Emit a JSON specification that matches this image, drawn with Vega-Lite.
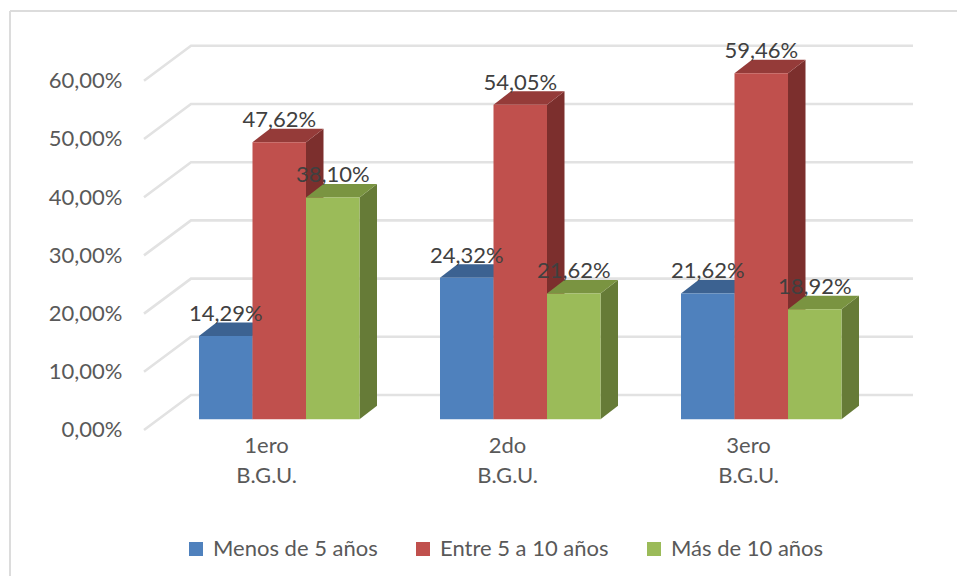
{
"$schema":"https://vega.github.io/schema/vega-lite/v6.json",
"width":947,"height":565,
"autosize":"none",
"padding":{"left":10,"top":11,"right":0,"bottom":0},
"background":"white",
"config":{"view":{"stroke":null},"font":"Lato","axis":{"grid":false,"ticks":false,"domain":false,"title":null}},
"datasets":{
"barras":[
{"grupo":"1ero B.G.U.","serie":"Menos de 5 años","valor":14.29},
{"grupo":"1ero B.G.U.","serie":"Entre 5 a 10 años","valor":47.62},
{"grupo":"1ero B.G.U.","serie":"Más de 10 años","valor":38.10},
{"grupo":"2do B.G.U.","serie":"Menos de 5 años","valor":24.32},
{"grupo":"2do B.G.U.","serie":"Entre 5 a 10 años","valor":54.05},
{"grupo":"2do B.G.U.","serie":"Más de 10 años","valor":21.62},
{"grupo":"3ero B.G.U.","serie":"Menos de 5 años","valor":21.62},
{"grupo":"3ero B.G.U.","serie":"Entre 5 a 10 años","valor":59.46},
{"grupo":"3ero B.G.U.","serie":"Más de 10 años","valor":18.92}
],
"rejilla":[{"nivel":0},{"nivel":10},{"nivel":20},{"nivel":30},{"nivel":40},{"nivel":50},{"nivel":60}]
},
"resolve":{"scale":{"color":"independent"}},
"layer":[
{
"data":{"name":"rejilla"},
"transform":[
{"calculate":"[-0.2282,-0.0332,2.9627]","as":"gx"},
{"calculate":"[datum.nivel,datum.nivel+6.01,datum.nivel+6.01]","as":"gy"},
{"flatten":["gx","gy"]}
],
"mark":{"type":"line","stroke":"#e2e2e2","strokeWidth":2.6},
"encoding":{
"x":{"field":"gx","type":"quantitative","title":null,"scale":{"domain":[-0.7842,3.1452],"nice":false,"zero":false},
"axis":{"orient":"bottom","offset":-131,"values":[0.278,1.278,2.278],"labelPadding":0,"labelFontSize":22,"labelColor":"#595959","labelLineHeight":30,"labelBaseline":"middle","labelExpr":"[['1ero','B.G.U.'],['2do','B.G.U.'],['3ero','B.G.U.']][round(datum.value-0.278)]"}},
"y":{"field":"gy","type":"quantitative","title":null,"scale":{"domain":[-25.086,71.993],"nice":false,"zero":false},
"axis":{"orient":"left","offset":-112,"values":[0,10,20,30,40,50,60],"labelPadding":0,"labelFontSize":22,"labelColor":"#595959","labelExpr":"replace(format(datum.value,'.2f'),'.',',')+'%'"}},
"detail":{"field":"nivel","type":"nominal"}
}
},
{
"data":{"values":[{"marco":"izquierda"}]},
"mark":{"type":"rule","stroke":"#dcdcdc","strokeWidth":2},
"encoding":{"x":{"datum":-0.7842,"title":null}}
},
{
"data":{"values":[{"marco":"arriba"}]},
"mark":{"type":"rule","stroke":"#dcdcdc","strokeWidth":2},
"encoding":{"y":{"datum":71.993,"title":null}}
},
{
"data":{"name":"barras"},
"transform":[
{"calculate":"indexof(['1ero B.G.U.','2do B.G.U.','3ero B.G.U.'],datum.grupo)+indexof(['Menos de 5 años','Entre 5 a 10 años','Más de 10 años'],datum.serie)*0.222+0.222","as":"xd"},
{"calculate":"[0,1]","as":"k"},
{"flatten":["k"]},
{"calculate":"datum.xd+datum.k*0.0726","as":"sx"},
{"calculate":"1.84+datum.k*2.32","as":"sb"},
{"calculate":"1.84+datum.valor+datum.k*2.32","as":"st"}
],
"mark":{"type":"area","line":false},
"encoding":{
"x":{"field":"sx","type":"quantitative","title":null},
"y":{"field":"st","type":"quantitative","title":null},
"y2":{"field":"sb"},
"detail":{"field":"grupo"},
"color":{"field":"serie","type":"nominal","legend":null,"scale":{"domain":["Menos de 5 años","Entre 5 a 10 años","Más de 10 años"],"range":["#37567f","#7c2f2d","#667b37"]}}
}
},
{
"data":{"name":"barras"},
"transform":[
{"calculate":"indexof(['1ero B.G.U.','2do B.G.U.','3ero B.G.U.'],datum.grupo)+indexof(['Menos de 5 años','Entre 5 a 10 años','Más de 10 años'],datum.serie)*0.222","as":"xi"},
{"calculate":"[0,1]","as":"k"},
{"flatten":["k"]},
{"calculate":"datum.xi+datum.k*0.0726","as":"tx"},
{"calculate":"datum.xi+0.222+datum.k*0.0726","as":"tx2"},
{"calculate":"1.84+datum.valor+datum.k*2.32","as":"ty"}
],
"mark":{"type":"area","orient":"horizontal","line":false},
"encoding":{
"y":{"field":"ty","type":"quantitative","title":null},
"x":{"field":"tx","type":"quantitative","title":null},
"x2":{"field":"tx2"},
"detail":{"field":"grupo"},
"color":{"field":"serie","type":"nominal","legend":null,"scale":{"domain":["Menos de 5 años","Entre 5 a 10 años","Más de 10 años"],"range":["#3c6291","#953b39","#7a9441"]}}
}
},
{
"data":{"name":"barras"},
"transform":[
{"calculate":"indexof(['1ero B.G.U.','2do B.G.U.','3ero B.G.U.'],datum.grupo)+indexof(['Menos de 5 años','Entre 5 a 10 años','Más de 10 años'],datum.serie)*0.222","as":"xi"},
{"calculate":"datum.xi+0.222","as":"xf"},
{"calculate":"1.84","as":"yb"},
{"calculate":"1.84+datum.valor","as":"yt"}
],
"mark":{"type":"rect"},
"encoding":{
"x":{"field":"xi","type":"quantitative","title":null},
"x2":{"field":"xf"},
"y":{"field":"yt","type":"quantitative","title":null},
"y2":{"field":"yb"},
"color":{"field":"serie","type":"nominal","scale":{"domain":["Menos de 5 años","Entre 5 a 10 años","Más de 10 años"],"range":["#4f81bd","#c0504d","#9bbb59"]},
"legend":{"title":null,"orient":"none","legendX":175,"legendY":527,"direction":"horizontal","columns":3,"symbolType":"square","symbolSize":196,"symbolStrokeWidth":0,"labelFontSize":22,"labelColor":"#595959","labelLimit":0,"columnPadding":34,"labelOffset":6,"symbolOpacity":1}}
}
},
{
"data":{"name":"barras"},
"transform":[
{"calculate":"indexof(['1ero B.G.U.','2do B.G.U.','3ero B.G.U.'],datum.grupo)+indexof(['Menos de 5 años','Entre 5 a 10 años','Más de 10 años'],datum.serie)*0.222+0.111","as":"xc"},
{"calculate":"datum.valor+1.84+3.8","as":"yl"},
{"calculate":"replace(format(datum.valor,'.2f'),'.',',')+'%'","as":"etiqueta"}
],
"mark":{"type":"text","fontSize":22,"color":"#404040","baseline":"middle","align":"center"},
"encoding":{
"x":{"field":"xc","type":"quantitative","title":null},
"y":{"field":"yl","type":"quantitative","title":null},
"text":{"field":"etiqueta"}
}
}
]
}
